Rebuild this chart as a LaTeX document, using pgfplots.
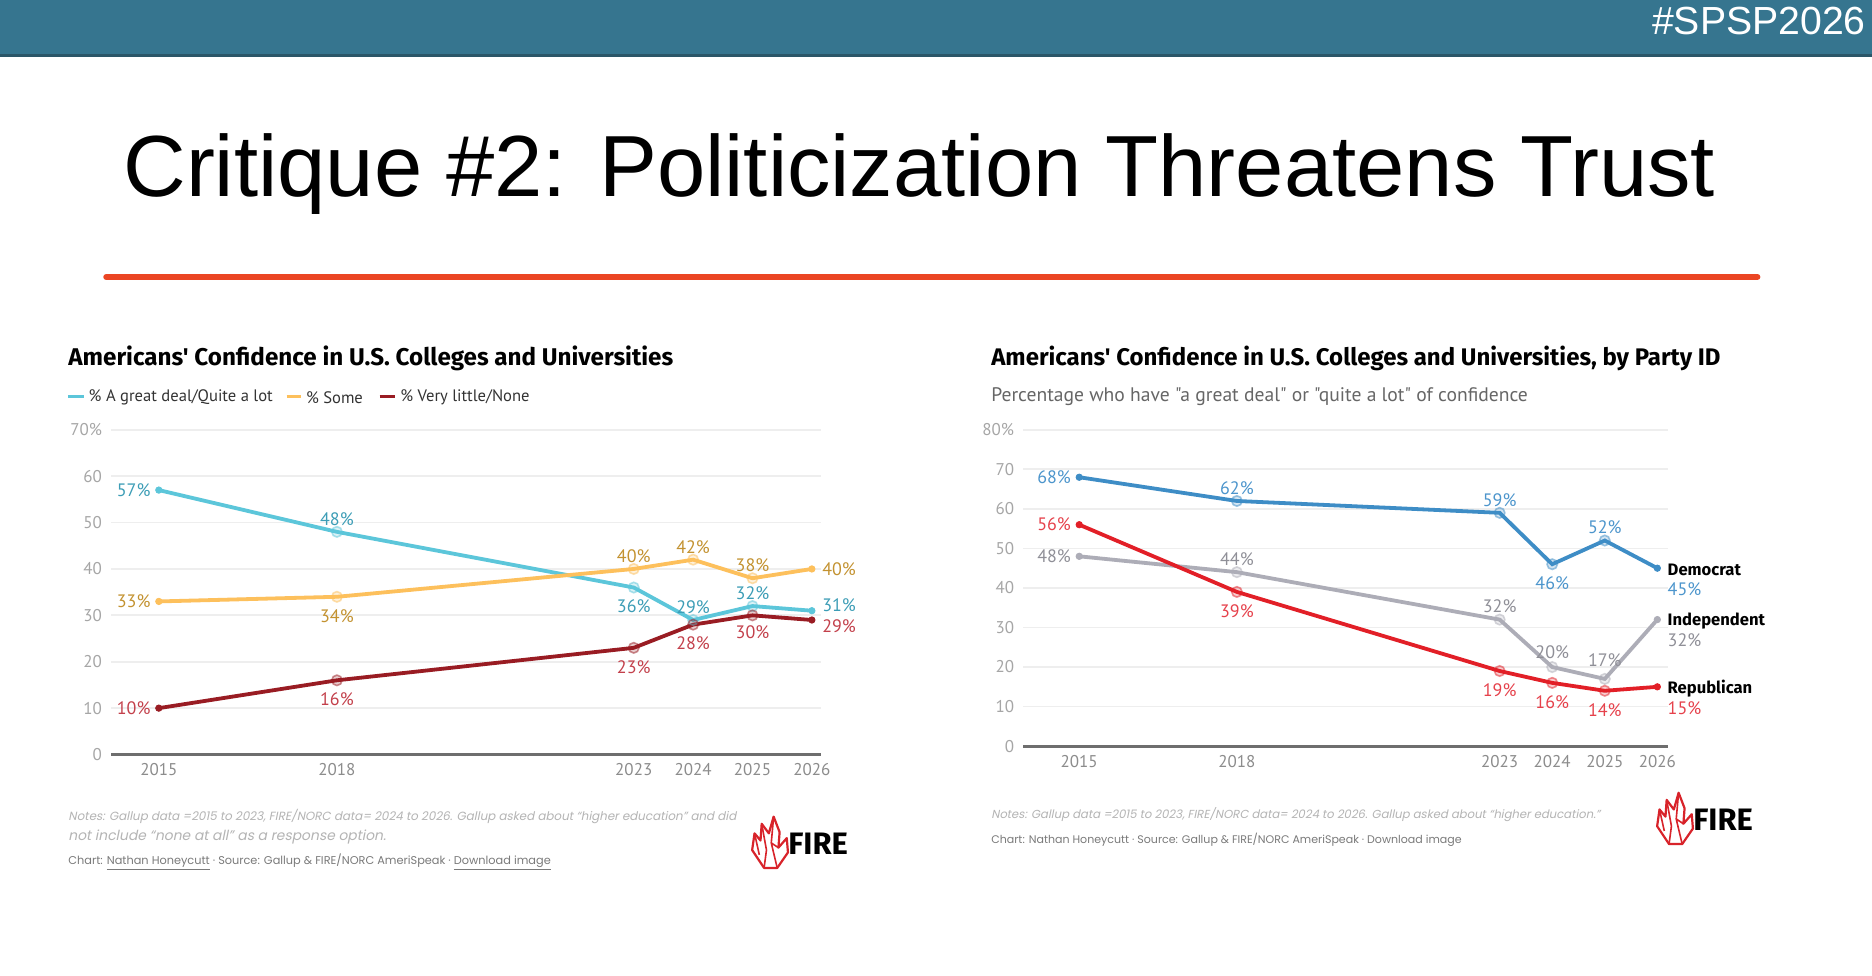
\documentclass[border=0pt]{standalone}
\usepackage{pgfplots}
\pgfplotsset{compat=1.18}
\usepackage{fontspec}
\setmainfont{Liberation Sans}
\newfontfamily\cf{PT Sans}
\newfontfamily\ff{Fira Sans}
\newfontfamily\pop{Poppins}[AutoFakeSlant=0.2]
\definecolor{band}{HTML}{36758F}
\definecolor{bandline}{HTML}{2B5668}
\definecolor{redline}{HTML}{EB4523}
\definecolor{gridc}{HTML}{EEEEEE}
\definecolor{axisc}{HTML}{6E6E6E}
\definecolor{tickc}{HTML}{A6A6A6}
\definecolor{xtickc}{HTML}{8C8C8C}
\definecolor{cyanl}{HTML}{5CC6DA}
\definecolor{cyant}{HTML}{3C9DB6}
\definecolor{orgl}{HTML}{FDC05C}
\definecolor{orgt}{HTML}{C39230}
\definecolor{drl}{HTML}{991C23}
\definecolor{drt}{HTML}{C3404B}
\definecolor{bll}{HTML}{3E8DC6}
\definecolor{blt}{HTML}{4C95CC}
\definecolor{grl}{HTML}{ADADB7}
\definecolor{grt}{HTML}{8F8F97}
\definecolor{rdl}{HTML}{E21F27}
\definecolor{rdt}{HTML}{E6414B}
\definecolor{notec}{HTML}{B4B4B4}
\definecolor{chartc}{HTML}{7A7A7A}
\definecolor{firered}{HTML}{D8232A}
\tikzset{lab/.style={font=\cf\fontsize{9}{10}\selectfont, inner sep=1pt}}
\pgfplotsset{
  conf/.style={
    scale only axis, clip=false,
    axis x line=bottom, axis y line=left,
    axis line style={-},
    y axis line style={draw=none},
    x axis line style={draw=axisc, line width=1.6pt},
    major tick length=0pt,
    ymajorgrids, grid style={gridc, line width=0.9pt},
    xtick={2015,2018,2023,2024,2025,2026},
    xticklabels={2015,2018,2023,2024,2025,2026},
    tick label style={font=\cf\fontsize{8.5}{9}\selectfont},
    yticklabel style={text=tickc, xshift=-1pt},
    xticklabel style={text=xtickc, yshift=-1pt},
  },
  inner/.style={only marks, mark=*, mark size=2.6pt, mark options={draw=#1, fill=#1, fill opacity=0.22, draw opacity=0.5, line width=0.8pt}},
  ends/.style={only marks, mark=*, mark size=1.6pt, mark options={draw=#1, fill=#1}},
}
\begin{document}
\begin{tikzpicture}
\begin{scope}[x=0.597pt,y=-0.597pt]
\fill[white] (0,0) rectangle (1568,817);
\fill[band] (0,0) rectangle (1568,46);
\fill[bandline] (0,45.5) rectangle (1568,48);
\node[anchor=base east, text=white, inner sep=0pt, font=\fontsize{19.6}{20}\selectfont] at (1563,28.5) {\#SPSP2026};
\node[anchor=base west, inner sep=0pt, font=\fontsize{43.4}{45}\selectfont] at (103,165) {Critique \#2: Politicization Threatens Trust};
\draw[redline, line width=3pt, line cap=round] (89,232) -- (1472,232);
% left chart titles
\node[anchor=west, inner sep=0pt, font=\ff\bfseries\fontsize{12.1}{13}\selectfont] at (57,300) {Americans' Confidence in U.S. Colleges and Universities};
\draw[cyanl, line width=1.8pt] (57,332) -- (70,332);
\node[anchor=west, inner sep=0pt, font=\cf\fontsize{8.3}{9}\selectfont, text=black!80] at (74,333) {\% A great deal/Quite a lot};
\draw[orgl, line width=1.8pt] (240,332) -- (252,332);
\node[anchor=west, inner sep=0pt, font=\cf\fontsize{8.3}{9}\selectfont, text=black!80] at (256,333) {\% Some};
\draw[drl, line width=1.8pt] (318,332) -- (331,332);
\node[anchor=west, inner sep=0pt, font=\cf\fontsize{8.3}{9}\selectfont, text=black!80] at (335,333) {\% Very little/None};
% right chart titles
\node[anchor=west, inner sep=0pt, font=\ff\bfseries\fontsize{12}{13}\selectfont] at (830,300) {Americans' Confidence in U.S. Colleges and Universities, by Party ID};
\node[anchor=west, inner sep=0pt, font=\cf\fontsize{9.8}{10}\selectfont, text=black!60] at (830,332) {Percentage who have "a great deal" or "quite a lot" of confidence};
% notes left
\node[anchor=west, inner sep=0pt, text=notec] at (57,684) {\resizebox{334pt}{!}{\pop\itshape Notes: Gallup data =2015 to 2023, FIRE/NORC data= 2024 to 2026. Gallup asked about “higher education” and did}};
\node[anchor=west, inner sep=0pt, text=notec] at (57,701) {\resizebox{158.8pt}{!}{\pop\itshape not include “none at all” as a response option.}};
\node[anchor=west, inner sep=0pt, text=chartc] at (57,722) {\resizebox{241.2pt}{!}{\pop Chart: \underline{Nathan Honeycutt} · Source: Gallup \& FIRE/NORC AmeriSpeak · \underline{Download image}}};
% notes right
\node[anchor=west, inner sep=0pt, text=notec] at (830,682) {\resizebox{304.5pt}{!}{\pop\itshape Notes: Gallup data =2015 to 2023, FIRE/NORC data= 2024 to 2026. Gallup asked about “higher education.”}};
\node[anchor=west, inner sep=0pt, text=chartc] at (830,703) {\resizebox{235.2pt}{!}{\pop Chart: Nathan Honeycutt · Source: Gallup \& FIRE/NORC AmeriSpeak · Download image}};
% FIRE logos
\foreach \ox/\oy in {0/0, 758/-20}{
\begin{scope}[shift={(\ox,\oy)}]
\draw[firered, line width=1.1pt, line join=round]
  (640,727) -- (630,712) -- (632,698) -- (637,704) -- (638,690) -- (644,698) -- (648,684) -- (653,697) -- (652,710) -- (659,702) -- (660,714) -- (651,727) -- cycle;
\draw[firered, line width=0.8pt] (638,690) -- (642,712) -- (640,727) (648,684) -- (646,706) -- (651,727) (632,698) -- (636,716) (652,710) -- (646,706);
\node[anchor=west, inner sep=0pt, font=\ff\bfseries\fontsize{15.5}{17}\selectfont] at (660,707) {FIRE};
\end{scope}}
\end{scope}
% left axis
\begin{axis}[conf, at={(55.52pt,-377.3pt)}, anchor=south west,
  width=355.2pt, height=162.4pt,
  xmin=2014.195, xmax=2026.16, ymin=0, ymax=70,
  ytick={0,10,20,30,40,50,60,70}, yticklabels={0,10,20,30,40,50,60,70\%}]
\addplot[cyanl, line width=1.9pt] coordinates {(2015,57)(2018,48)(2023,36)(2024,29)(2025,32)(2026,31)};
\addplot[orgl, line width=1.9pt] coordinates {(2015,33)(2018,34)(2023,40)(2024,42)(2025,38)(2026,40)};
\addplot[drl, line width=1.9pt] coordinates {(2015,10)(2018,16)(2023,23)(2024,28)(2025,30)(2026,29)};
\addplot[inner=cyanl] coordinates {(2018,48)(2023,36)(2024,29)(2025,32)};
\addplot[inner=orgl] coordinates {(2018,34)(2023,40)(2024,42)(2025,38)};
\addplot[inner=drl] coordinates {(2018,16)(2023,23)(2024,28)(2025,30)};
\addplot[ends=cyanl] coordinates {(2015,57)(2026,31)};
\addplot[ends=orgl] coordinates {(2015,33)(2026,40)};
\addplot[ends=drl] coordinates {(2015,10)(2026,29)};
% labels cyan
\node[lab, text=cyant, anchor=east, xshift=-3pt] at (axis cs:2015,57) {57\%};
\node[lab, text=cyant, anchor=south, yshift=2pt] at (axis cs:2018,48) {48\%};
\node[lab, text=cyant, anchor=north, yshift=-5pt] at (axis cs:2023,36) {36\%};
\node[lab, text=cyant, anchor=south, yshift=2pt] at (axis cs:2024,29) {29\%};
\node[lab, text=cyant, anchor=south, yshift=2pt] at (axis cs:2025,32) {32\%};
\node[lab, text=cyant, anchor=west, xshift=4pt, yshift=3pt] at (axis cs:2026,31) {31\%};
% labels orange
\node[lab, text=orgt, anchor=east, xshift=-3pt] at (axis cs:2015,33) {33\%};
\node[lab, text=orgt, anchor=north, yshift=-5pt] at (axis cs:2018,34) {34\%};
\node[lab, text=orgt, anchor=south, yshift=2pt] at (axis cs:2023,40) {40\%};
\node[lab, text=orgt, anchor=south, yshift=2pt] at (axis cs:2024,42) {42\%};
\node[lab, text=orgt, anchor=south, yshift=2pt] at (axis cs:2025,38) {38\%};
\node[lab, text=orgt, anchor=west, xshift=4pt] at (axis cs:2026,40) {40\%};
% labels dark red
\node[lab, text=drt, anchor=east, xshift=-3pt] at (axis cs:2015,10) {10\%};
\node[lab, text=drt, anchor=north, yshift=-5pt] at (axis cs:2018,16) {16\%};
\node[lab, text=drt, anchor=north, yshift=-5pt] at (axis cs:2023,23) {23\%};
\node[lab, text=drt, anchor=north, yshift=-5pt] at (axis cs:2024,28) {28\%};
\node[lab, text=drt, anchor=north, yshift=-4pt] at (axis cs:2025,30) {30\%};
\node[lab, text=drt, anchor=west, xshift=4pt, yshift=-3pt] at (axis cs:2026,29) {29\%};
\end{axis}
% right axis
\begin{axis}[conf, at={(511.6pt,-373.1pt)}, anchor=south west,
  width=322.4pt, height=158.2pt,
  xmin=2013.932, xmax=2026.2, ymin=0, ymax=80,
  ytick={0,10,20,30,40,50,60,70,80}, yticklabels={0,10,20,30,40,50,60,70,80\%}]
\addplot[grl, line width=1.9pt] coordinates {(2015,48)(2018,44)(2023,32)(2024,20)(2025,17)(2026,32)};
\addplot[rdl, line width=1.9pt] coordinates {(2015,56)(2018,39)(2023,19)(2024,16)(2025,14)(2026,15)};
\addplot[bll, line width=1.9pt] coordinates {(2015,68)(2018,62)(2023,59)(2024,46)(2025,52)(2026,45)};
\addplot[inner=grl] coordinates {(2018,44)(2023,32)(2024,20)(2025,17)};
\addplot[inner=rdl] coordinates {(2018,39)(2023,19)(2024,16)(2025,14)};
\addplot[inner=bll] coordinates {(2018,62)(2023,59)(2024,46)(2025,52)};
\addplot[ends=grl] coordinates {(2015,48)(2026,32)};
\addplot[ends=rdl] coordinates {(2015,56)(2026,15)};
\addplot[ends=bll] coordinates {(2015,68)(2026,45)};
% Democrat
\node[lab, text=blt, anchor=east, xshift=-3pt] at (axis cs:2015,68) {68\%};
\node[lab, text=blt, anchor=south, yshift=2pt] at (axis cs:2018,62) {62\%};
\node[lab, text=blt, anchor=south, yshift=2pt] at (axis cs:2023,59) {59\%};
\node[lab, text=blt, anchor=north, yshift=-5pt] at (axis cs:2024,46) {46\%};
\node[lab, text=blt, anchor=south, yshift=2pt] at (axis cs:2025,52) {52\%};
\node[lab, anchor=west, xshift=4pt, yshift=-1pt, font=\ff\bfseries\fontsize{8.3}{9}\selectfont] at (axis cs:2026,45) {Democrat};
\node[lab, text=blt, anchor=west, xshift=4pt, yshift=-10.5pt] at (axis cs:2026,45) {45\%};
% Independent
\node[lab, text=grt, anchor=east, xshift=-3pt] at (axis cs:2015,48) {48\%};
\node[lab, text=grt, anchor=south, yshift=2pt] at (axis cs:2018,44) {44\%};
\node[lab, text=grt, anchor=south, yshift=2pt] at (axis cs:2023,32) {32\%};
\node[lab, text=grt, anchor=south, yshift=3pt] at (axis cs:2024,20) {20\%};
\node[lab, text=grt, anchor=south, yshift=5pt] at (axis cs:2025,17) {17\%};
\node[lab, anchor=west, xshift=4pt, yshift=-0.5pt, font=\ff\bfseries\fontsize{8.3}{9}\selectfont] at (axis cs:2026,32) {Independent};
\node[lab, text=grt, anchor=west, xshift=4pt, yshift=-10.5pt] at (axis cs:2026,32) {32\%};
% Republican
\node[lab, text=rdt, anchor=east, xshift=-3pt] at (axis cs:2015,56) {56\%};
\node[lab, text=rdt, anchor=north, yshift=-5pt] at (axis cs:2018,39) {39\%};
\node[lab, text=rdt, anchor=north, yshift=-5pt] at (axis cs:2023,19) {19\%};
\node[lab, text=rdt, anchor=north, yshift=-5pt] at (axis cs:2024,16) {16\%};
\node[lab, text=rdt, anchor=north, yshift=-5pt] at (axis cs:2025,14) {14\%};
\node[lab, anchor=west, xshift=4pt, yshift=-1pt, font=\ff\bfseries\fontsize{8.3}{9}\selectfont] at (axis cs:2026,15) {Republican};
\node[lab, text=rdt, anchor=west, xshift=4pt, yshift=-10.5pt] at (axis cs:2026,15) {15\%};
\end{axis}
\end{tikzpicture}
\end{document}
